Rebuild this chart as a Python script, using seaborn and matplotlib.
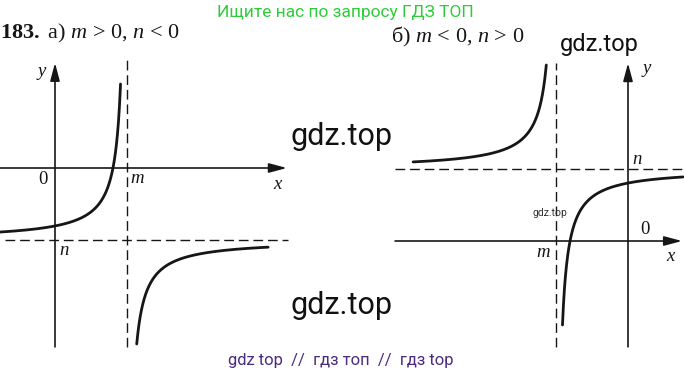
import numpy as np
import pandas as pd
import matplotlib
matplotlib.use("Agg")
import matplotlib.pyplot as plt
import seaborn as sns

# ---- data (1 unit = 36 px) ----
panels = ["a", "b"]
m_values = [2.0, -2.0]          # vertical asymptote x = m
n_values = [-2.0, 2.0]          # horizontal asymptote y = n
k_values = [-0.78, -0.78]       # y = n + k / (x - m)
left_branch_x = [(-1.53, 1.82), (-5.97, -2.27)]
right_branch_x = [(2.27, 5.92), (-1.82, 1.53)]
x_axis_range = [(-1.53, 6.44), (-6.47, 1.50)]
y_axis_range = [(-4.97, 2.92), (-2.94, 4.94)]
vdash_range = [(-4.97, 3.00), (-2.94, 4.94)]
hdash_range = [(-1.39, 6.47), (-6.47, 1.53)]
xlims = [(-55 / 36, 245 / 36), (-248 / 36, 56 / 36)]
ylims = [(-182 / 36, 118 / 36), (-109 / 36, 191 / 36)]
label_text = ["0", "m", "x", "y", "n"]
label_pos = [
    [(-0.33, -0.33), (2.28, -0.28), (6.17, -0.47), (-0.36, 2.67), (0.25, -2.28)],
    [(0.47, 0.31), (-2.36, -0.33), (1.17, -0.44), (0.53, 4.80), (0.25, 2.25)],
]
headings = [r"$\mathbf{183.}$ а) $m$ > 0, $n$ < 0", r"б) $m$ < 0, $n$ > 0"]

sns.set_theme(style="white")
plt.rcParams["mathtext.fontset"] = "custom"
plt.rcParams["mathtext.rm"] = "Liberation Serif"
plt.rcParams["mathtext.it"] = "Liberation Serif:italic"
plt.rcParams["mathtext.bf"] = "Liberation Serif:bold"
plt.rcParams["font.family"] = ["Liberation Serif", "DejaVu Sans"]

INK = "#161616"
fig = plt.figure(figsize=(6.84, 3.76), dpi=100)
fig.patch.set_facecolor("white")

ax_rects = [
    [0 / 684, 26 / 376, 300 / 684, 300 / 376],
    [380 / 684, 26 / 376, 304 / 684, 300 / 376],
]

for i in range(2):
    ax = fig.add_axes(ax_rects[i])
    ax.set_xlim(*xlims[i])
    ax.set_ylim(*ylims[i])
    ax.axis("off")
    ax.patch.set_alpha(0)
    m, n, k = m_values[i], n_values[i], k_values[i]

    # asymptotes
    ax.plot([m, m], vdash_range[i], color=INK, lw=1.0, dashes=(7, 3.5), clip_on=False)
    ax.plot(hdash_range[i], [n, n], color=INK, lw=1.0, dashes=(7, 3.5), clip_on=False)

    # coordinate axes with arrows
    arrow = dict(arrowstyle="-|>,head_length=0.9,head_width=0.24", color=INK, lw=1.2,
                 shrinkA=0, shrinkB=0)
    ax.annotate("", xy=(x_axis_range[i][1], 0), xytext=(x_axis_range[i][0], 0),
                arrowprops=arrow, annotation_clip=False)
    ax.annotate("", xy=(0, y_axis_range[i][1]), xytext=(0, y_axis_range[i][0]),
                arrowprops=arrow, annotation_clip=False)

    # hyperbola branches
    for j, (x0, x1) in enumerate([left_branch_x[i], right_branch_x[i]]):
        if abs(x1 - m) < abs(x0 - m):
            t = 1 - np.geomspace(1e-3, 1, 300)[::-1]
        else:
            t = np.geomspace(1e-3, 1, 300)
        xs = x0 + (x1 - x0) * np.sort(np.concatenate([np.linspace(0, 1, 200), t]))
        df = pd.DataFrame({"x": xs, "y": n + k / (xs - m)})
        sns.lineplot(data=df, x="x", y="y", ax=ax, color=INK, lw=2.0, sort=False,
                     estimator=None, legend=False)
    ax.set_xlim(*xlims[i])
    ax.set_ylim(*ylims[i])
    ax.axis("off")

    for txt, (tx, ty) in zip(label_text, label_pos[i]):
        style = "normal" if txt == "0" else "italic"
        ax.text(tx, ty, txt, fontsize=13.5, style=style, color=INK,
                family="Liberation Serif", ha="center", va="center")

# headings
fig.text(0 / 684, 1 - 33 / 376, headings[0], fontsize=16, color=INK, ha="left", va="center")
fig.text(391 / 684, 1 - 37 / 376, headings[1], fontsize=16, color=INK, ha="left", va="center")

# watermarks
wm = ["Roboto", "DejaVu Sans"]
fig.text(345 / 684, 1 - 12 / 376, "Ищите нас по запросу ГДЗ ТОП", fontsize=12.5,
         color="#2fcc3a", family=wm, ha="center", va="center")
fig.text(599 / 684, 1 - 44 / 376, "gdz.top", fontsize=17, color="#111111",
         family=wm, ha="center", va="center")
fig.text(341 / 684, 1 - 137 / 376, "gdz.top", fontsize=22, color="#111111",
         family=wm, ha="center", va="center")
fig.text(341 / 684, 1 - 305 / 376, "gdz.top", fontsize=22, color="#111111",
         family=wm, ha="center", va="center")
fig.text(550 / 684, 1 - 213 / 376, "gdz.top", fontsize=7.5, color="#333333",
         family=wm, ha="center", va="center")
fig.text(341 / 684, 1 - 361 / 376, "gdz top  //  гдз топ  //  гдз top", fontsize=12,
         color="#4b2a80", family=wm, ha="center", va="center")

fig.savefig("out.png", dpi=100, facecolor="white")
